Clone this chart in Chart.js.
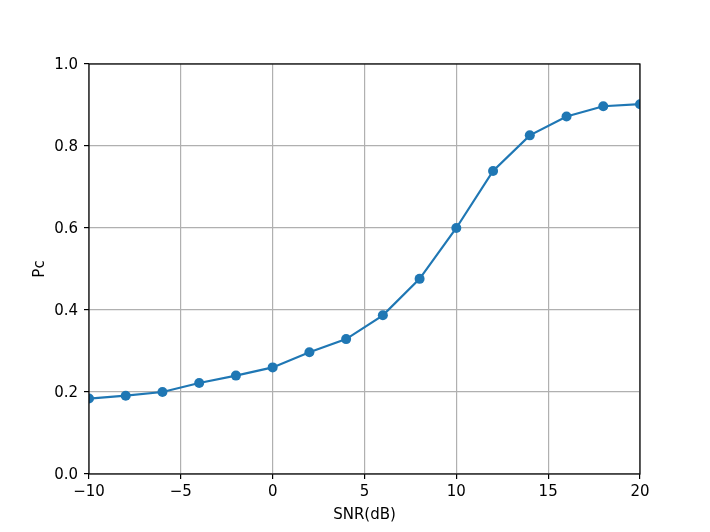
<!DOCTYPE html>
<html>
<head>
<meta charset="utf-8">
<script src="https://cdn.jsdelivr.net/npm/chart.js@4/dist/chart.umd.min.js"></script>
<style>
html,body{margin:0;padding:0;background:#fff;}
#wrap{width:710px;height:532px;}
</style>
</head>
<body>
<div id="wrap"><canvas id="c" width="710" height="532"></canvas></div>
<script>
const snr = [-10, -8, -6, -4, -2, 0, 2, 4, 6, 8, 10, 12, 14, 16, 18, 20];
const pc = [0.184, 0.191, 0.200, 0.222, 0.240, 0.260, 0.297, 0.329, 0.387, 0.476, 0.600, 0.739, 0.826, 0.872, 0.897, 0.902];
const xLabel = 'SNR(dB)';
const yLabel = 'Pc';

const FONT = {family: 'DejaVu Sans', size: 15};

const spines = {
  id: 'spines',
  afterDatasetsDraw(chart) {
    const {ctx, chartArea: a} = chart;
    ctx.save();
    ctx.strokeStyle = '#000';
    ctx.lineWidth = 1.2;
    ctx.strokeRect(a.left, a.top, a.right - a.left, a.bottom - a.top);
    ctx.restore();
  }
};

new Chart(document.getElementById('c'), {
  type: 'line',
  data: {
    datasets: [{
      data: snr.map((x, i) => ({x: x, y: pc[i]})),
      borderColor: '#1f77b4',
      backgroundColor: '#1f77b4',
      borderWidth: 2.2,
      pointRadius: 5,
      pointHoverRadius: 5,
      pointBorderWidth: 0,
      pointBackgroundColor: '#1f77b4',
      tension: 0,
      clip: 0
    }]
  },
  plugins: [spines],
  options: {
    responsive: false,
    animation: false,
    devicePixelRatio: 1,
    layout: {padding: {top: 64, right: 70, left: 0, bottom: 0}},
    plugins: {legend: {display: false}, tooltip: {enabled: false}},
    scales: {
      x: {
        type: 'linear',
        min: -10, max: 20,
        afterFit(s) { s.height = 58; },
        ticks: {
          stepSize: 5,
          color: '#000',
          font: FONT,
          padding: 4.5,
          maxRotation: 0,
          callback: v => (v < 0 ? '\u2212' + Math.abs(v) : String(v))
        },
        grid: {color: '#b0b0b0', lineWidth: 1.2, tickColor: '#000', tickLength: 5, tickWidth: 1.2},
        border: {display: false},
        title: {display: true, text: xLabel, color: '#000', font: FONT, padding: {top: 0, bottom: 7.5}}
      },
      y: {
        min: 0, max: 1,
        afterFit(s) { s.width = 89; },
        ticks: {
          stepSize: 0.2,
          color: '#000',
          font: FONT,
          padding: 6,
          labelOffset: 1.5,
          callback: v => Number(v).toFixed(1)
        },
        grid: {color: '#b0b0b0', lineWidth: 1.2, tickColor: '#000', tickLength: 5, tickWidth: 1.2},
        border: {display: false},
        title: {display: true, text: yLabel, color: '#000', font: FONT, padding: {top: 30.8, bottom: 0}}
      }
    }
  }
});
</script>
</body>
</html>
